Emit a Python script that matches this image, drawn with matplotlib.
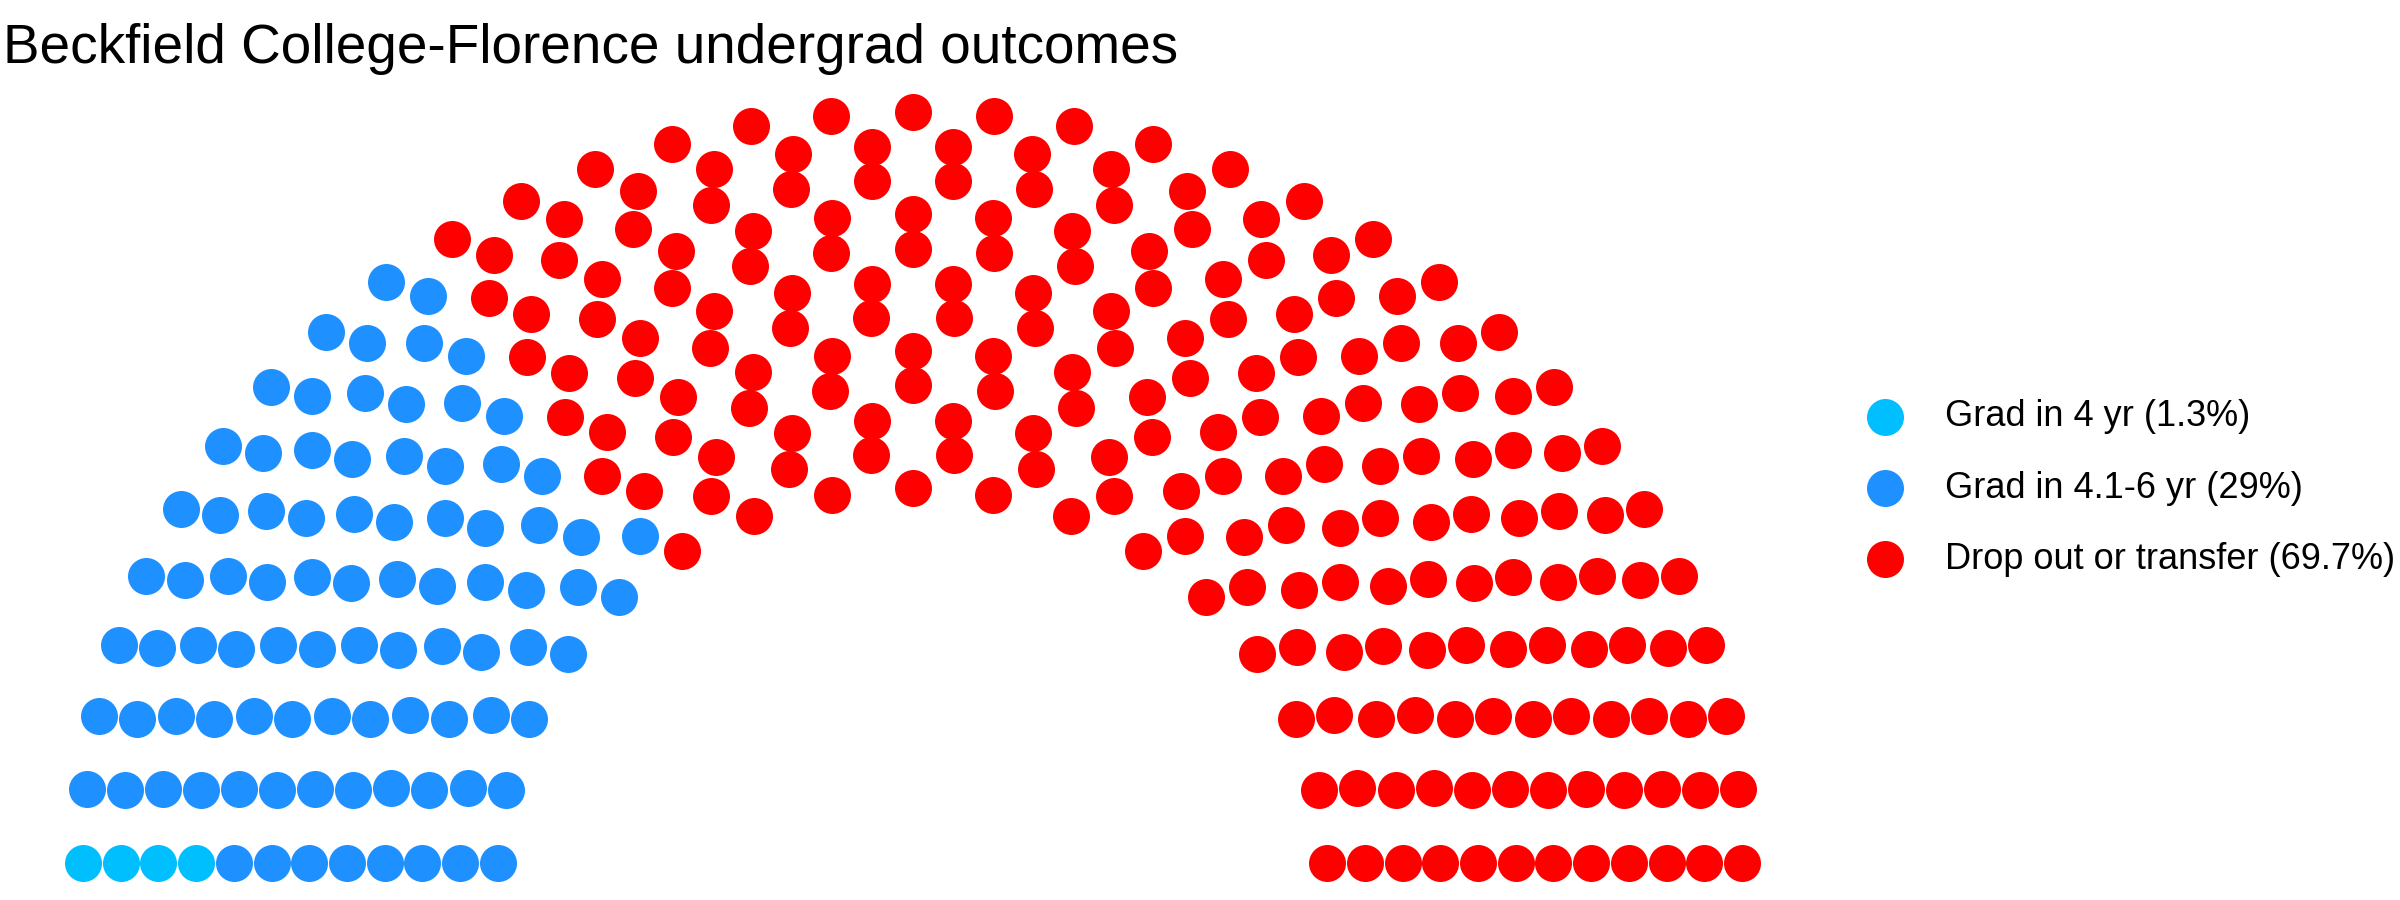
import numpy as np
import matplotlib
matplotlib.use("Agg")
import matplotlib.pyplot as plt

# Fuente tipo Helvetica
plt.rcParams['font.family'] = ['Liberation Sans', 'DejaVu Sans']

# Datos del grafico
titulo = "Beckfield College-Florence undergrad outcomes"
grupos = ['Grad in 4 yr', 'Grad in 4.1-6 yr', 'Drop out or transfer']
asientos = [4, 87, 209]
porcentajes = ['1.3%', '29%', '69.7%']
colores = ['#00BFFF', '#1E90FF', '#FF0000']
n_filas = 12


# Calcula la posicion de cada asiento en un semicirculo (como ggparliament)
def calcular_asientos(total, filas):
    radios = np.linspace(1, 2, filas)
    restantes = total
    xs, ys, rs, thetas = [], [], [], []
    for i in range(filas):
        n = int(np.round(restantes * radios[i] / radios[i:].sum()))
        theta = np.linspace(0, np.pi, n)
        xs.extend(radios[i] * np.cos(theta))
        ys.extend(radios[i] * np.sin(theta))
        rs.extend([i] * n)
        thetas.extend(theta)
        restantes -= n
    xs, ys, rs, thetas = map(np.array, (xs, ys, rs, thetas))
    # primero por angulo (de izquierda a derecha), luego filas exteriores
    orden = np.lexsort((-rs, -np.round(thetas, 9)))
    return xs[orden], ys[orden]


x, y = calcular_asientos(sum(asientos), n_filas)

fig = plt.figure(figsize=(24, 9), dpi=100)
ax = fig.add_axes([83 / 2400, 37 / 900, 1659 / 2400, 751 / 900])
ax.set_xlim(-2, 2)
ax.set_ylim(0, 2)
ax.axis('off')

inicio = 0
for grupo, n, pct, color in zip(grupos, asientos, porcentajes, colores):
    ax.scatter(x[inicio:inicio + n], y[inicio:inicio + n], s=710, color=color,
               linewidths=0, clip_on=False, label=f"{grupo} ({pct})")
    inicio += n

fig.text(3 / 2400, 1 - 63 / 900, titulo, fontsize=39.5, ha='left', va='baseline')

handles, labels = ax.get_legend_handles_labels()
fig.legend(handles, labels, loc='center left', bbox_to_anchor=(1849 / 2400, 1 - 488 / 900),
           frameon=False, fontsize=26, borderpad=0, borderaxespad=0,
           labelspacing=1.0, handlelength=2.0, handletextpad=0.65)

fig.savefig("out.png", dpi=100)
